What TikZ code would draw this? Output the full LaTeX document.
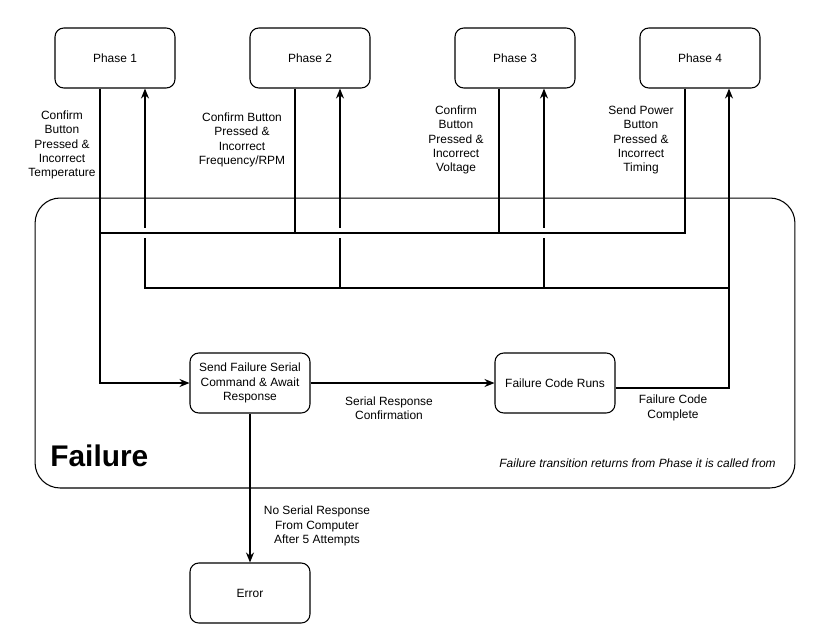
\documentclass[tikz,border=0pt]{standalone}
\usepackage{fontspec}
\setmainfont{Liberation Sans}
\usetikzlibrary{arrows.meta,positioning}

\begin{document}
\begin{tikzpicture}[x=0.02cm,y=-0.02cm,
    caja/.style={draw,rounded corners=5pt,minimum width=2.4cm,minimum height=1.2cm,align=center,font=\fontsize{6.8}{8.1}\selectfont,line width=0.6pt},
    flecha/.style={-{Stealth[length=2mm,width=1.6mm]},line width=0.6pt},
    linea/.style={line width=0.6pt},
    etiqueta/.style={align=center,font=\fontsize{6.8}{8.1}\selectfont,inner sep=0pt}]
    \useasboundingbox (0,0) rectangle (818,639);
    \node[draw,rounded corners=0.5cm,minimum width=15.2cm,minimum height=5.8cm,line width=0.6pt] (marco) at (415,343) {};
    \node[caja] (f1) at (115,58) {Phase 1};
    \node[caja] (f2) at (310,58) {Phase 2};
    \node[caja] (f3) at (515,58) {Phase 3};
    \node[caja] (f4) at (700,58) {Phase 4};
    \node[caja] (envio) at (250,383) {Send Failure Serial\\Command \& Await\\Response};
    \node[caja] (codigo) at (555,383) {Failure Code Runs};
    \node[caja] (error) at (250,593) {Error};
    \coordinate (bus) at (0,233);
    \coordinate (ret) at (0,288);
    % vuelta a la fase
    \draw[flecha] ([yshift=-0.1cm]codigo.east) -| ([xshift=0.58cm]f4.south);
    \draw[flecha] ([xshift=0.58cm]f4.south |- ret) -| ([xshift=0.6cm]f1.south);
    \draw[flecha] ([xshift=0.6cm]f2.south |- ret) -- ([xshift=0.6cm]f2.south);
    \draw[flecha] ([xshift=0.58cm]f3.south |- ret) -- ([xshift=0.58cm]f3.south);
    \foreach \n/\d in {f1/0.6cm,f2/0.6cm,f3/0.58cm}
      \fill[white] ([xshift=\d]\n.south |- bus) +(-2,-5) rectangle +(2,5);
    % salida de cada fase
    \draw[flecha] ([xshift=-0.3cm]f1.south) |- (envio.west);
    \draw[linea] ([xshift=-0.3cm]f2.south) |- ([xshift=-0.3cm]f1.south |- bus);
    \draw[linea] ([xshift=-0.32cm]f3.south) |- ([xshift=-0.3cm]f1.south |- bus);
    \draw[linea] ([xshift=-0.3cm]f4.south) |- ([xshift=-0.3cm]f1.south |- bus);
    \draw[flecha] (envio) -- (codigo);
    \draw[flecha] (envio) -- (error);
    \node[etiqueta] (l1) at (62,145) {Confirm\\Button\\Pressed \&\\Incorrect\\Temperature};
    \node[etiqueta] (l2) at (242,140) {Confirm Button\\Pressed \&\\Incorrect\\Frequency/RPM};
    \node[etiqueta] (l3) at (456,140) {Confirm\\Button\\Pressed \&\\Incorrect\\Voltage};
    \node[etiqueta] (l4) at (641,140) {Send Power\\Button\\Pressed \&\\Incorrect\\Timing};
    \node[etiqueta] (l5) at (389,408) {Serial Response\\Confirmation};
    \node[etiqueta] (l6) at (673,408) {Failure Code\\Complete};
    \node[etiqueta] (l7) at (317,526) {No Serial Response\\From Computer\\After 5 Attempts};
    \node[font=\fontsize{17}{20}\selectfont\bfseries,anchor=west,inner sep=0pt] (titulo) at (50,456) {Failure};
    \node[etiqueta,font=\fontsize{6.8}{8.1}\selectfont\itshape,anchor=east] (nota) at (776,463) {Failure transition returns from Phase it is called from};
  \end{tikzpicture}
\end{document}
